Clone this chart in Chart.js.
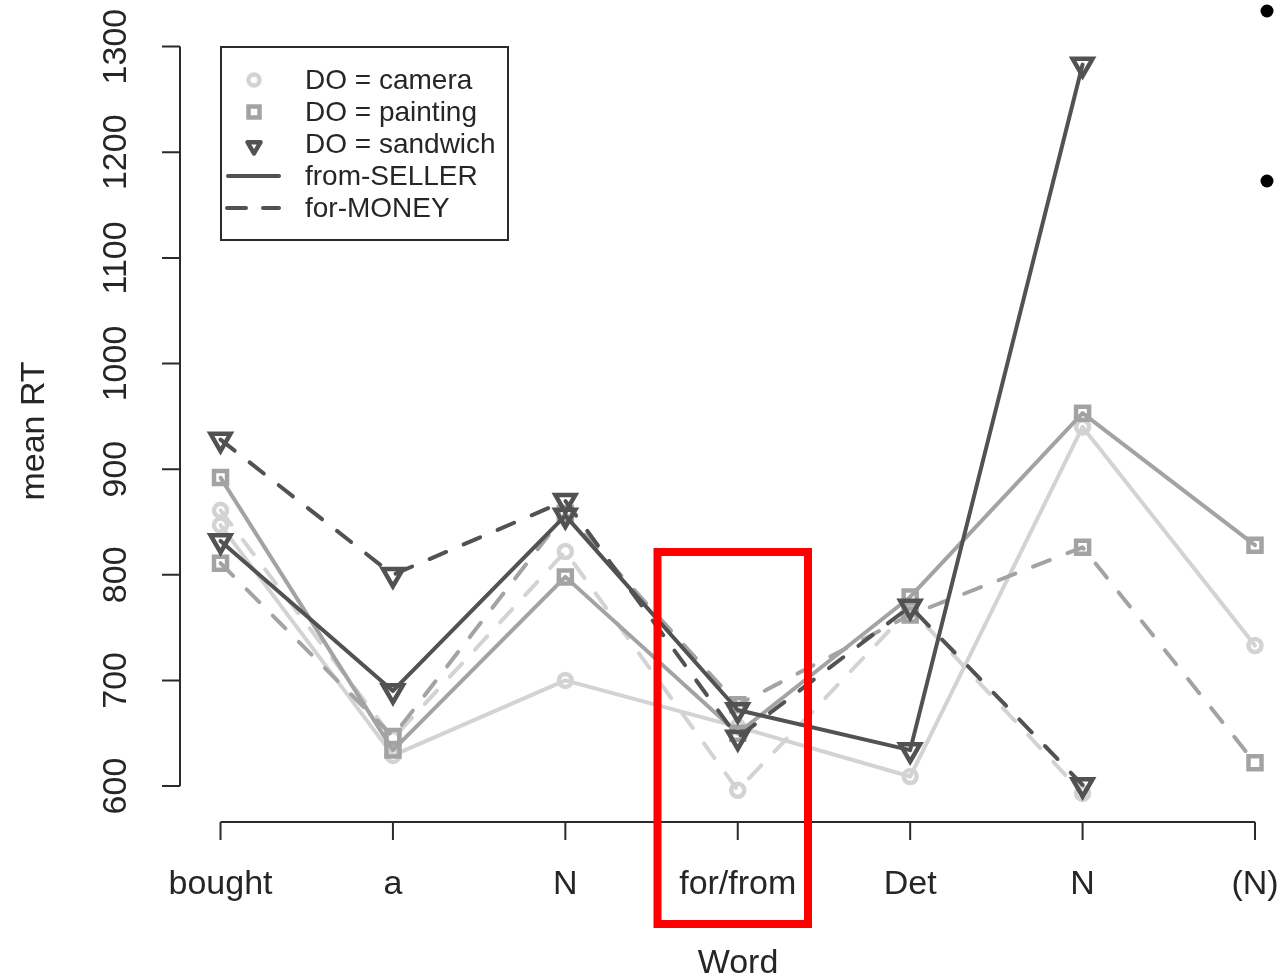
<!DOCTYPE html>
<html>
<head>
<meta charset="utf-8">
<script src="https://cdn.jsdelivr.net/npm/chart.js@4/dist/chart.umd.min.js"></script>
<style>
  html, body { margin: 0; padding: 0; background: #fff; overflow: hidden; }
  #wrap { position: relative; width: 1282px; height: 979px; }
</style>
</head>
<body>
<div id="wrap"><canvas id="c" width="1282" height="979"></canvas></div>
<script>
// ---- data ----
const categories = ["bought", "a", "N", "for/from", "Det", "N", "(N)"];
const yTicks = [600, 700, 800, 900, 1000, 1100, 1200, 1300];

const cameraSeller   = [847, 629, 700, 656, 609, 940, 733];
const cameraMoney    = [861, 645, 822, 596, 768, 593, null];
const paintingSeller = [892, 634, 798, 650, 779, 953, 828];
const paintingMoney  = [811, 647, 858, 677, 762, 826, 622];
const sandwichSeller = [832, 690, 856, 672, 634, 1283, null];
const sandwichMoney  = [928, 800, 870, 646, 770, 601, null];

const legendLabels = ["DO = camera", "DO = painting", "DO = sandwich", "from-SELLER", "for-MONEY"];

// ---- styling ----
const COL_CAM = "#d3d3d3", COL_PAI = "#a3a3a3", COL_SAN = "#525252";
const DASH = [18, 19];
const FONT = "'Liberation Sans', Arial, sans-serif";

function pts(arr) { return arr.map((v, i) => ({ x: i + 1, y: v })); }

function ds(label, data, color, style, dashed, order) {
  const rad = style === 'circle' ? 6.5 : style === 'rect' ? 9.2 : 11.5;
  return {
    label, data: pts(data), borderColor: color, backgroundColor: 'transparent',
    borderWidth: 4, borderDash: dashed ? DASH : [], borderCapStyle: 'round', borderJoinStyle: 'round',
    pointStyle: style, pointRotation: style === 'triangle' ? 180 : 0,
    pointRadius: rad, pointBorderWidth: 4.5, pointBorderColor: color, pointBackgroundColor: 'transparent',
    pointHoverRadius: rad, tension: 0, spanGaps: false, clip: false, order
  };
}

const overlay = {
  id: 'overlay',
  beforeDatasetsDraw(chart) {
    const ctx = chart.ctx, xs = chart.scales.x, ys = chart.scales.y;
    ctx.save();
    ctx.strokeStyle = "#2b2b2b"; ctx.fillStyle = "#262626"; ctx.lineWidth = 2;
    // y axis
    const ax = 180;
    ctx.beginPath();
    ctx.moveTo(ax, ys.getPixelForValue(yTicks[0]));
    ctx.lineTo(ax, ys.getPixelForValue(yTicks[yTicks.length - 1]));
    yTicks.forEach(t => { const p = ys.getPixelForValue(t); ctx.moveTo(ax, p); ctx.lineTo(ax - 18, p); });
    ctx.stroke();
    ctx.font = "34px " + FONT; ctx.textAlign = "center"; ctx.textBaseline = "middle";
    yTicks.forEach(t => {
      const p = ys.getPixelForValue(t);
      ctx.save(); ctx.translate(117, p); ctx.rotate(-Math.PI / 2); ctx.fillText(String(t), 0, 0); ctx.restore();
    });
    // x axis
    const ay = 822;
    ctx.beginPath();
    ctx.moveTo(xs.getPixelForValue(1), ay);
    ctx.lineTo(xs.getPixelForValue(categories.length), ay);
    categories.forEach((c, i) => { const p = xs.getPixelForValue(i + 1); ctx.moveTo(p, ay); ctx.lineTo(p, ay + 18); });
    ctx.stroke();
    categories.forEach((c, i) => ctx.fillText(c, xs.getPixelForValue(i + 1), 885));
    // axis titles
    ctx.fillText("Word", 738, 964);
    ctx.save(); ctx.translate(35, 431); ctx.rotate(-Math.PI / 2); ctx.fillText("mean RT", 0, 0); ctx.restore();
    ctx.restore();
  },
  afterDatasetsDraw(chart) {
    const ctx = chart.ctx;
    ctx.save();
    // legend box
    ctx.fillStyle = "#fff"; ctx.fillRect(221, 47, 287, 193);
    ctx.strokeStyle = "#2b2b2b"; ctx.lineWidth = 2; ctx.strokeRect(221, 47, 287, 193);
    const rows = [80, 112, 144, 176, 208];
    ctx.font = "28px " + FONT; ctx.fillStyle = "#262626"; ctx.textAlign = "left"; ctx.textBaseline = "middle";
    legendLabels.forEach((l, i) => ctx.fillText(l, 305, rows[i] + 1));
    const sx = 254;
    // circle
    ctx.lineWidth = 4.5;
    ctx.strokeStyle = COL_CAM; ctx.beginPath(); ctx.arc(sx, rows[0], 5.5, 0, Math.PI * 2); ctx.stroke();
    // square
    ctx.strokeStyle = COL_PAI; ctx.strokeRect(sx - 5.5, rows[1] - 5.5, 11, 11);
    // triangle down
    ctx.strokeStyle = COL_SAN; ctx.lineJoin = "round"; ctx.beginPath();
    const r = 7.5, cy = rows[2] + 2;
    ctx.moveTo(sx, cy + r);
    ctx.lineTo(sx - r * 0.866, cy - r / 2);
    ctx.lineTo(sx + r * 0.866, cy - r / 2);
    ctx.closePath(); ctx.stroke();
    // lines
    ctx.lineWidth = 4; ctx.lineCap = "round"; ctx.strokeStyle = "#525252";
    ctx.beginPath(); ctx.moveTo(228, rows[3]); ctx.lineTo(279, rows[3]); ctx.stroke();
    ctx.beginPath(); ctx.moveTo(227, rows[4]); ctx.lineTo(246, rows[4]); ctx.moveTo(263, rows[4]); ctx.lineTo(279, rows[4]); ctx.stroke();
    // red highlight box
    ctx.strokeStyle = "#ff0000"; ctx.lineWidth = 8; ctx.lineCap = "butt"; ctx.lineJoin = "miter";
    ctx.strokeRect(657.5, 552, 150.5, 372);
    // dots at right edge
    ctx.fillStyle = "#000";
    ctx.beginPath(); ctx.arc(1267, 11, 6.5, 0, Math.PI * 2); ctx.fill();
    ctx.beginPath(); ctx.arc(1267, 181, 6.5, 0, Math.PI * 2); ctx.fill();
    ctx.restore();
  }
};

new Chart(document.getElementById('c'), {
  type: 'line',
  data: {
    datasets: [
      ds("camera from-SELLER", cameraSeller, COL_CAM, 'circle', false, 5),
      ds("camera for-MONEY", cameraMoney, COL_CAM, 'circle', true, 4),
      ds("painting from-SELLER", paintingSeller, COL_PAI, 'rect', false, 3),
      ds("painting for-MONEY", paintingMoney, COL_PAI, 'rect', true, 2),
      ds("sandwich from-SELLER", sandwichSeller, COL_SAN, 'triangle', false, 1),
      ds("sandwich for-MONEY", sandwichMoney, COL_SAN, 'triangle', true, 0)
    ]
  },
  options: {
    responsive: false, animation: false, devicePixelRatio: 1,
    layout: { padding: { left: 180, right: 27, top: 35, bottom: 156 } },
    scales: {
      x: { type: 'linear', min: 0.765, max: 7.0, display: false },
      y: { type: 'linear', min: 565, max: 1311, display: false }
    },
    plugins: { legend: { display: false }, tooltip: { enabled: false } },
    events: []
  },
  plugins: [overlay]
});
</script>
</body>
</html>
